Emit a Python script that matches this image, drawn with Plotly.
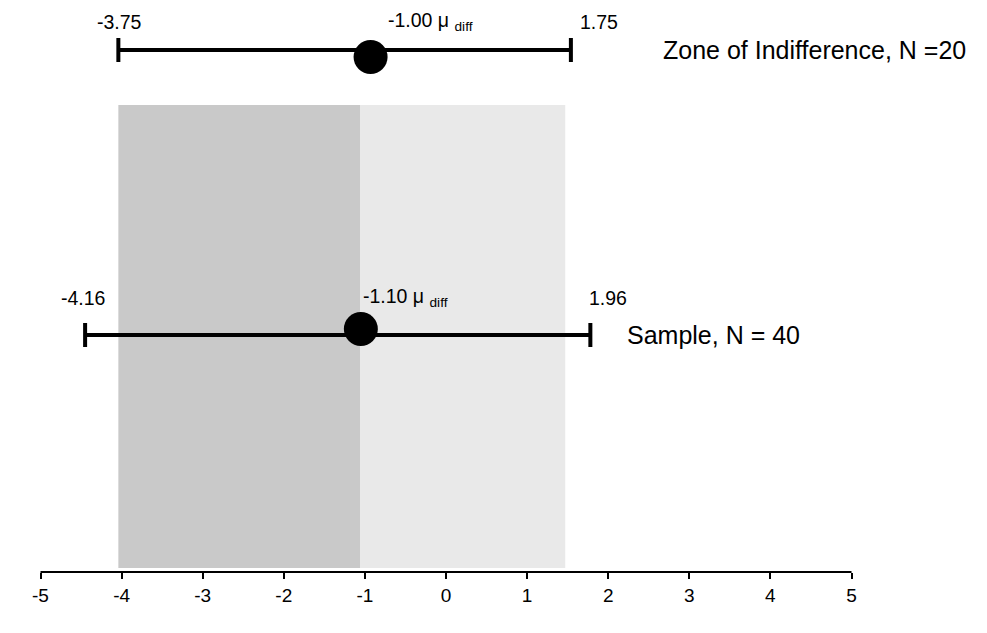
import plotly.graph_objects as go

# ---- data ----
series_labels = ["Zone of Indifference, N =20", "Sample, N = 40"]
means = [-0.93, -1.05]
lows = [-4.04, -4.45]
highs = [1.54, 1.78]
low_text = ["-3.75", "-4.16"]
mean_text = ["-1.00", "-1.10"]
high_text = ["1.75", "1.96"]
shade_edges = [-4.04, -1.06, 1.47]   # shaded zone: dark part, light part
tick_vals = [-5, -4, -3, -2, -1, 0, 1, 2, 3, 4, 5]

# ---- layout constants (pixel rows, styles) ----
W, H = 987, 633
ROW_Y = [42, 327]          # vertical position of each interval line
DOT_DY = [7, -6]           # slight offset of dots from line (as in scan)
AXIS_Y = 564
SHADE_TOP, SHADE_BOT = 97, 560
FONT = "Liberation Sans, Arial, sans-serif"
X0_PX, PX_PER_UNIT = 438, 81.1
X_RANGE = [(0 - X0_PX) / PX_PER_UNIT, (W - X0_PX) / PX_PER_UNIT]

fig = go.Figure()

# shaded zone
fig.add_shape(type="rect", x0=shade_edges[0], x1=shade_edges[1], y0=SHADE_TOP, y1=SHADE_BOT,
              fillcolor="#c9c9c9", line_width=0, layer="below")
fig.add_shape(type="rect", x0=shade_edges[1], x1=shade_edges[2], y0=SHADE_TOP, y1=SHADE_BOT,
              fillcolor="#e9e9e9", line_width=0, layer="below")

# intervals (error bars with caps)
fig.add_trace(go.Scatter(
    x=means, y=ROW_Y, mode="markers",
    marker=dict(size=1, color="rgba(0,0,0,0)"),
    error_x=dict(type="data", symmetric=False,
                 array=[h - m for h, m in zip(highs, means)],
                 arrayminus=[m - l for m, l in zip(means, lows)],
                 thickness=4, width=12, color="black"),
    showlegend=False, hoverinfo="skip"))

# mean dots
fig.add_trace(go.Scatter(
    x=means, y=[r + d for r, d in zip(ROW_Y, DOT_DY)], mode="markers",
    marker=dict(size=34, color="black"),
    showlegend=False, hoverinfo="skip"))

# bottom axis line from -5 to 5
fig.add_shape(type="line", x0=tick_vals[0], x1=tick_vals[-1], y0=AXIS_Y, y1=AXIS_Y,
              line=dict(color="black", width=2))

num_font = dict(family=FONT, size=19.5, color="black")
lab_font = dict(family=FONT, size=25, color="black")
low_dx = [1, -2]
low_y = [14, 290]
high_dx = [28, 18]
high_y = [14, 290]
mean_dx = [15, 0]
mean_y = [13, 289]
label_dx = [90, 35]
for i in range(len(series_labels)):
    fig.add_annotation(x=lows[i], y=low_y[i], text=low_text[i], showarrow=False,
                       xanchor="center", yanchor="middle", xshift=low_dx[i], font=num_font)
    fig.add_annotation(x=highs[i], y=high_y[i], text=high_text[i], showarrow=False,
                       xanchor="center", yanchor="middle", xshift=high_dx[i], font=num_font)
    fig.add_annotation(x=means[i], y=mean_y[i],
                       text=mean_text[i] + " \u03bc <sub>diff</sub>", showarrow=False,
                       xanchor="left", yanchor="middle", xshift=mean_dx[i], font=num_font)
    fig.add_annotation(x=highs[i], y=ROW_Y[i], text=series_labels[i], showarrow=False,
                       xanchor="left", yanchor="middle", xshift=label_dx[i], font=lab_font)

fig.update_layout(
    width=W, height=H,
    margin=dict(l=0, r=0, t=0, b=0, autoexpand=False),
    paper_bgcolor="white", plot_bgcolor="white",
    xaxis=dict(range=X_RANGE, domain=[0, 1], anchor="free", position=(H - AXIS_Y) / H,
               showgrid=False, zeroline=False, showline=False,
               tickmode="array", tickvals=tick_vals, ticktext=[str(t) for t in tick_vals],
               ticks="outside", ticklen=6, tickwidth=2, tickcolor="black",
               ticklabelstandoff=0,
               tickfont=dict(family=FONT, size=19, color="black"), automargin=False),
    yaxis=dict(range=[H, 0], visible=False, showgrid=False, zeroline=False, automargin=False),
)

fig.write_html("out.html")
